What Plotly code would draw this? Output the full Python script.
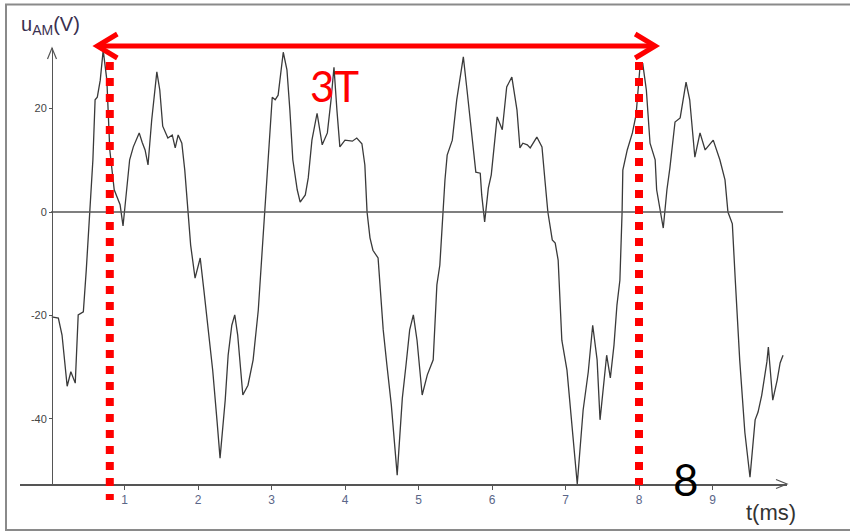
import plotly.graph_objects as go

# ---- data ----
t_ms = [0.01, 0.10, 0.15, 0.22, 0.27, 0.33, 0.37, 0.44, 0.48, 0.53,
        0.57, 0.60, 0.63, 0.67, 0.71, 0.76, 0.80, 0.86, 0.90, 0.94,
        0.98, 1.03, 1.07, 1.12, 1.16, 1.20, 1.24, 1.28, 1.32, 1.37,
        1.44, 1.48, 1.52, 1.59, 1.65, 1.69, 1.73, 1.78, 1.82, 1.86,
        1.90, 1.96, 2.03, 2.08, 2.14, 2.20, 2.26, 2.30, 2.37, 2.41,
        2.46, 2.50, 2.54, 2.61, 2.68, 2.75, 2.82, 2.87, 2.91, 2.95,
        2.98, 3.01, 3.05, 3.09, 3.16, 3.21, 3.25, 3.29, 3.35, 3.39,
        3.46, 3.50, 3.55, 3.62, 3.69, 3.76, 3.81, 3.85, 3.89, 3.93,
        4.00, 4.10, 4.16, 4.23, 4.27, 4.30, 4.34, 4.38, 4.45, 4.52,
        4.57, 4.63, 4.71, 4.78, 4.83, 4.88, 4.93, 4.98, 5.05, 5.12,
        5.20, 5.25, 5.29, 5.33, 5.36, 5.39, 5.46, 5.52, 5.61, 5.66,
        5.73, 5.78, 5.84, 5.86, 5.90, 5.95, 5.99, 6.07, 6.14, 6.20,
        6.27, 6.34, 6.38, 6.42, 6.48, 6.52, 6.61, 6.68, 6.72, 6.76,
        6.82, 6.86, 6.90, 6.95, 7.02, 7.09, 7.16, 7.24, 7.31, 7.37,
        7.43, 7.47, 7.54, 7.56, 7.61, 7.66, 7.70, 7.74, 7.77, 7.78,
        7.84, 7.91, 7.96, 8.01, 8.05, 8.10, 8.15, 8.22, 8.24, 8.29,
        8.33, 8.38, 8.42, 8.49, 8.56, 8.64, 8.69, 8.76, 8.83, 8.90,
        9.01, 9.10, 9.17, 9.21, 9.27, 9.31, 9.37, 9.44, 9.51, 9.58,
        9.62, 9.67, 9.74, 9.76, 9.82, 9.88, 9.92, 9.96]

u_V = [-20.3, -20.5, -23.8, -33.7, -30.9, -33.1, -19.9, -19.3, -11.2, 0.0,
       10.1, 21.7, 22.2, 25.5, 31.3, 25.5, 12.0, 4.3, 2.9, 1.4,
       -2.7, 5.2, 10.1, 12.6, 13.9, 15.3, 13.5, 12.0, 9.1, 17.8,
       27.1, 23.6, 16.6, 14.3, 14.9, 12.4, 14.9, 13.3, 8.1, 0.0,
       -6.4, -12.8, -8.9, -15.1, -22.8, -30.6, -40.6, -47.6, -36.4, -27.7,
       -21.9, -19.9, -23.8, -35.4, -33.5, -28.6, -19.0, -8.3, 0.0, 7.2,
       13.9, 22.2, 21.7, 22.6, 30.9, 27.5, 19.7, 10.1, 4.3, 1.9,
       3.3, 6.6, 13.9, 19.1, 13.0, 15.3, 21.7, 28.0, 19.7, 12.6,
       13.9, 13.7, 14.3, 13.2, 9.1, 0.0, -5.0, -7.4, -8.9, -22.8,
       -29.6, -37.3, -50.9, -36.0, -29.6, -22.8, -19.9, -24.8, -35.4, -31.5,
       -28.6, -14.1, -10.3, 0.0, 6.2, 11.0, 13.9, 21.7, 30.0, 23.6,
       13.9, 7.7, 7.5, 3.3, -1.9, 4.6, 7.2, 18.4, 15.9, 24.2,
       26.1, 19.7, 12.4, 13.3, 13.0, 12.4, 14.5, 12.6, 6.2, 0.0,
       -5.4, -6.0, -9.3, -24.8, -30.6, -42.2, -52.6, -38.3, -30.9, -21.9,
       -28.6, -40.2, -30.6, -27.7, -32.1, -25.7, -18.0, -13.2, 0.0, 8.1,
       12.0, 15.3, 18.8, 27.5, 28.8, 23.6, 13.3, 10.1, 4.3, 0.0,
       -3.1, 4.3, 8.5, 17.4, 18.2, 25.1, 21.7, 10.6, 15.3, 12.0,
       13.9, 10.1, 6.2, 0.0, -2.3, -13.2, -28.6, -42.6, -51.3, -40.2,
       -38.7, -35.4, -29.0, -26.1, -36.4, -32.5, -29.2, -27.7]

x_tick_vals = [1, 2, 3, 4, 5, 6, 7, 8, 9]
x_tick_text = ["1", "2", "3", "4", "5", "6", "7", "8", "9"]
y_tick_vals = [20, 0, -20, -40]
y_tick_text = ["20", "0", "-20", "-40"]

period_marks_ms = [0.80, 8.00]       # dotted red verticals
arrow_span_ms = [0.63, 8.22]         # red double arrow ends
zero_line_span_ms = [0.0, 9.96]
label_3T = "3T"
label_3T_pos = [3.86, 24.4]
label_8 = "8"
label_8_t = 8.64

# ---- layout geometry (pixels) ----
W, H = 850, 532
ML, MR, MT, MB = 20, 63, 48, 48
PW, PH = W - ML - MR, H - MT - MB
PX_PER_MS = 73.5


def px(xp):
    return (xp - ML) / PW


def py(yp):
    return (H - MB - yp) / PH


fig = go.Figure()
fig.add_trace(go.Scatter(x=t_ms, y=u_V, mode="lines",
                         line=dict(color="#3a3a3a", width=1.3),
                         hoverinfo="skip", showlegend=False))

RED = "#ff0000"
AXC = "#555555"
shapes = []
# zero line
shapes.append(dict(type="line", xref="x", yref="y",
                   x0=zero_line_span_ms[0], x1=zero_line_span_ms[1], y0=0, y1=0,
                   line=dict(color=AXC, width=1.6)))
# dotted red verticals
shapes.append(dict(type="line", xref="x", yref="paper",
                   x0=period_marks_ms[0], x1=period_marks_ms[0], y0=py(62), y1=py(500),
                   line=dict(color=RED, width=8, dash="dot")))
shapes.append(dict(type="line", xref="x", yref="paper",
                   x0=period_marks_ms[1], x1=period_marks_ms[1], y0=py(62), y1=py(485),
                   line=dict(color=RED, width=8, dash="dot")))
# red double arrow: shaft + two chevrons
ya = py(46)
head_len = 20 / PX_PER_MS
head_half = 12 / PH
a0, a1 = arrow_span_ms
shapes.append(dict(type="line", xref="x", yref="paper", x0=a0 + 0.03, x1=a1 - 0.03,
                   y0=ya, y1=ya, line=dict(color=RED, width=5)))
shapes.append(dict(type="path", xref="x", yref="paper",
                   path=f"M{a0 + head_len},{ya + head_half} L{a0},{ya} L{a0 + head_len},{ya - head_half}",
                   line=dict(color=RED, width=5)))
shapes.append(dict(type="path", xref="x", yref="paper",
                   path=f"M{a1 - head_len},{ya + head_half} L{a1},{ya} L{a1 - head_len},{ya - head_half}",
                   line=dict(color=RED, width=5)))
# axis arrow heads (open chevrons)
shapes.append(dict(type="path", xref="paper", yref="paper",
                   path=f"M{px(47.5)},{py(59)} L{px(52)},{py(48)} L{px(56.5)},{py(59)}",
                   line=dict(color=AXC, width=1.2)))
shapes.append(dict(type="path", xref="paper", yref="paper",
                   path=f"M{px(776)},{py(479.5)} L{px(787)},{py(484)} L{px(776)},{py(488.5)}",
                   line=dict(color=AXC, width=1.2)))
# frame (left, top, bottom edges visible)
shapes.append(dict(type="rect", xref="paper", yref="paper",
                   x0=px(6), x1=px(900), y0=py(530), y1=py(4.5),
                   line=dict(color="#8a8a8a", width=2)))

annotations = []
annotations.append(dict(xref="paper", yref="paper", x=px(19), y=py(25),
                        xanchor="left", yanchor="middle", showarrow=False,
                        text="u<sub>AM</sub>(V)",
                        font=dict(family="Liberation Sans, Arial", size=20, color="#3a3050")))
annotations.append(dict(xref="paper", yref="paper", x=px(771), y=py(512),
                        xanchor="center", yanchor="middle", showarrow=False,
                        text="t(ms)",
                        font=dict(family="Liberation Sans, Arial", size=22, color="#333333")))
annotations.append(dict(xref="x", yref="y", x=label_3T_pos[0], y=label_3T_pos[1],
                        xanchor="center", yanchor="middle", showarrow=False,
                        text=label_3T,
                        font=dict(family="Lato, Liberation Sans", size=42, color=RED)))
annotations.append(dict(xref="x", yref="paper", x=label_8_t, y=py(479),
                        xanchor="center", yanchor="middle", showarrow=False,
                        text=label_8,
                        font=dict(family="Lato, Liberation Sans", size=44, color="#000000")))

x_range = [(ML - 51) / PX_PER_MS, (W - MR - 51) / PX_PER_MS]
y_range = [(212 - (H - MB)) / 5.17, (212 - MT) / 5.17]

fig.update_layout(
    width=W, height=H, autosize=False,
    margin=dict(l=ML, r=MR, t=MT, b=MB, pad=0),
    paper_bgcolor="white", plot_bgcolor="white",
    shapes=shapes, annotations=annotations,
    xaxis=dict(range=x_range, showgrid=False, zeroline=False,
               showline=True, linecolor=AXC, linewidth=1.6,
               ticks="outside", ticklen=4, tickcolor=AXC,
               tickvals=x_tick_vals, ticktext=x_tick_text,
               tickfont=dict(family="Liberation Sans, Arial", size=12, color="#5a6688")),
    yaxis=dict(range=y_range, showgrid=False, zeroline=False,
               anchor="free", position=px(52),
               showline=True, linecolor=AXC, linewidth=1.3,
               ticks="outside", ticklen=3, tickcolor=AXC,
               tickvals=y_tick_vals, ticktext=y_tick_text,
               tickfont=dict(family="Liberation Sans, Arial", size=11, color="#444444")),
)

fig.write_html("out.html",
               config={"displayModeBar": False, "staticPlot": True},
               post_script="document.body.style.margin='0';document.body.style.overflow='hidden';")
